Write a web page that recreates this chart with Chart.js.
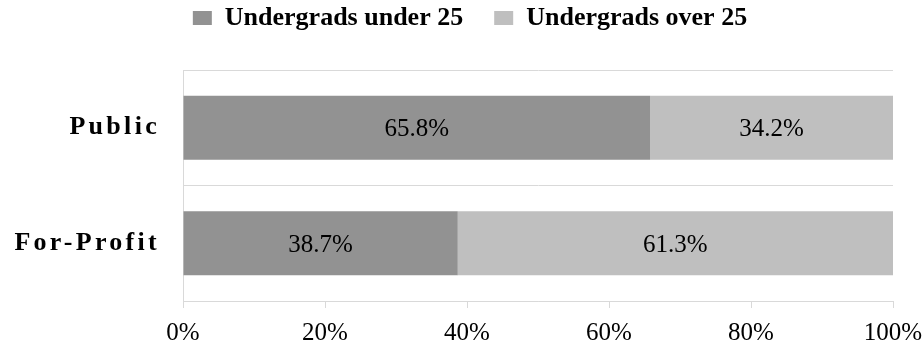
<!DOCTYPE html>
<html>
<head>
<meta charset="utf-8">
<script src="https://cdn.jsdelivr.net/npm/chart.js@4"></script>
<style>
  html, body { margin: 0; padding: 0; background: #fff; }
  #wrap { width: 923px; height: 347px; }
</style>
</head>
<body>
<div id="wrap"><canvas id="ageChart" width="923" height="347"></canvas></div>
<script>
var sectors = ['Public', 'For-Profit'];
var under25 = [65.8, 38.7];
var over25 = [34.2, 61.3];
var seriesNames = ['Undergrads under 25', 'Undergrads over 25'];
var xTicks = [0, 20, 40, 60, 80, 100];

var serif = '"Liberation Serif", "Times New Roman", serif';

// labels in the middle of each bar segment
var barLabels = {
    id: 'barLabels',
    afterDatasetsDraw: function(chart) {
        var ctx = chart.ctx;
        ctx.save();
        ctx.font = '25px ' + serif;
        ctx.fillStyle = '#000';
        ctx.textAlign = 'center';
        ctx.textBaseline = 'middle';
        chart.data.datasets.forEach(function(ds, i) {
            chart.getDatasetMeta(i).data.forEach(function(bar, j) {
                ctx.fillText(ds.data[j].toFixed(1) + '%', (bar.x + bar.base) / 2, bar.y + 2);
            });
        });
        ctx.restore();
    }
};

// spaced out category names, a taller legend and a legend nudged right
var tweaks = {
    id: 'tweaks',
    beforeLayout: function(chart) {
        var lg = chart.legend;
        if (lg && !lg._tall) {
            var fit = lg.fit.bind(lg);
            lg.fit = function() { fit(); this.height += 29; };
            lg._tall = true;
        }
    },
    afterLayout: function(chart) {
        chart.legend.left = 47;
        var s = chart.scales.y;
        if (s._spaced) return;
        var orig = s.drawLabels.bind(s);
        s.drawLabels = function(area) {
            this.ctx.save();
            this.ctx.letterSpacing = '3.3px';
            orig(area);
            this.ctx.restore();
        };
        s._spaced = true;
    }
};

var ctx = document.getElementById('ageChart').getContext('2d');
var chart = new Chart(ctx, {
    type: 'bar',
    data: {
        labels: sectors,
        datasets: [{
            label: seriesNames[0],
            data: under25,
            backgroundColor: '#929292',
            categoryPercentage: 1,
            barPercentage: 0.555
        }, {
            label: seriesNames[1],
            data: over25,
            backgroundColor: '#bfbfbf',
            categoryPercentage: 1,
            barPercentage: 0.555
        }]
    },
    plugins: [barLabels, tweaks],
    options: {
        indexAxis: 'y',
        responsive: false,
        animation: false,
        layout: {
            padding: { left: 0, right: 30, top: -26, bottom: 0 }
        },
        plugins: {
            tooltip: { enabled: false },
            legend: {
                position: 'top',
                labels: {
                    color: '#000',
                    font: { family: serif, size: 26, weight: 'bold' },
                    boxWidth: 19,
                    boxHeight: 14,
                    padding: 31
                }
            }
        },
        scales: {
            x: {
                stacked: true,
                min: 0,
                max: 100,
                afterBuildTicks: function(scale) {
                    scale.ticks = xTicks.map(function(v) { return { value: v }; });
                },
                afterFit: function(scale) {
                    scale.paddingLeft = 0;
                    scale.paddingRight = 0;
                    scale.height = 46;
                },
                grid: {
                    drawOnChartArea: false,
                    drawTicks: true,
                    tickLength: 7,
                    color: '#d9d9d9'
                },
                border: { color: '#d9d9d9' },
                ticks: {
                    color: '#000',
                    padding: 10,
                    maxRotation: 0,
                    font: { family: serif, size: 25 },
                    callback: function(v) { return v + '%'; }
                }
            },
            y: {
                stacked: true,
                afterFit: function(scale) { scale.width = 183; },
                grid: {
                    drawTicks: false,
                    color: '#d9d9d9'
                },
                border: { color: '#d9d9d9' },
                ticks: {
                    color: '#000',
                    padding: 23,
                    font: { family: serif, size: 26, weight: 'bold' }
                }
            }
        }
    }
});
</script>
</body>
</html>
